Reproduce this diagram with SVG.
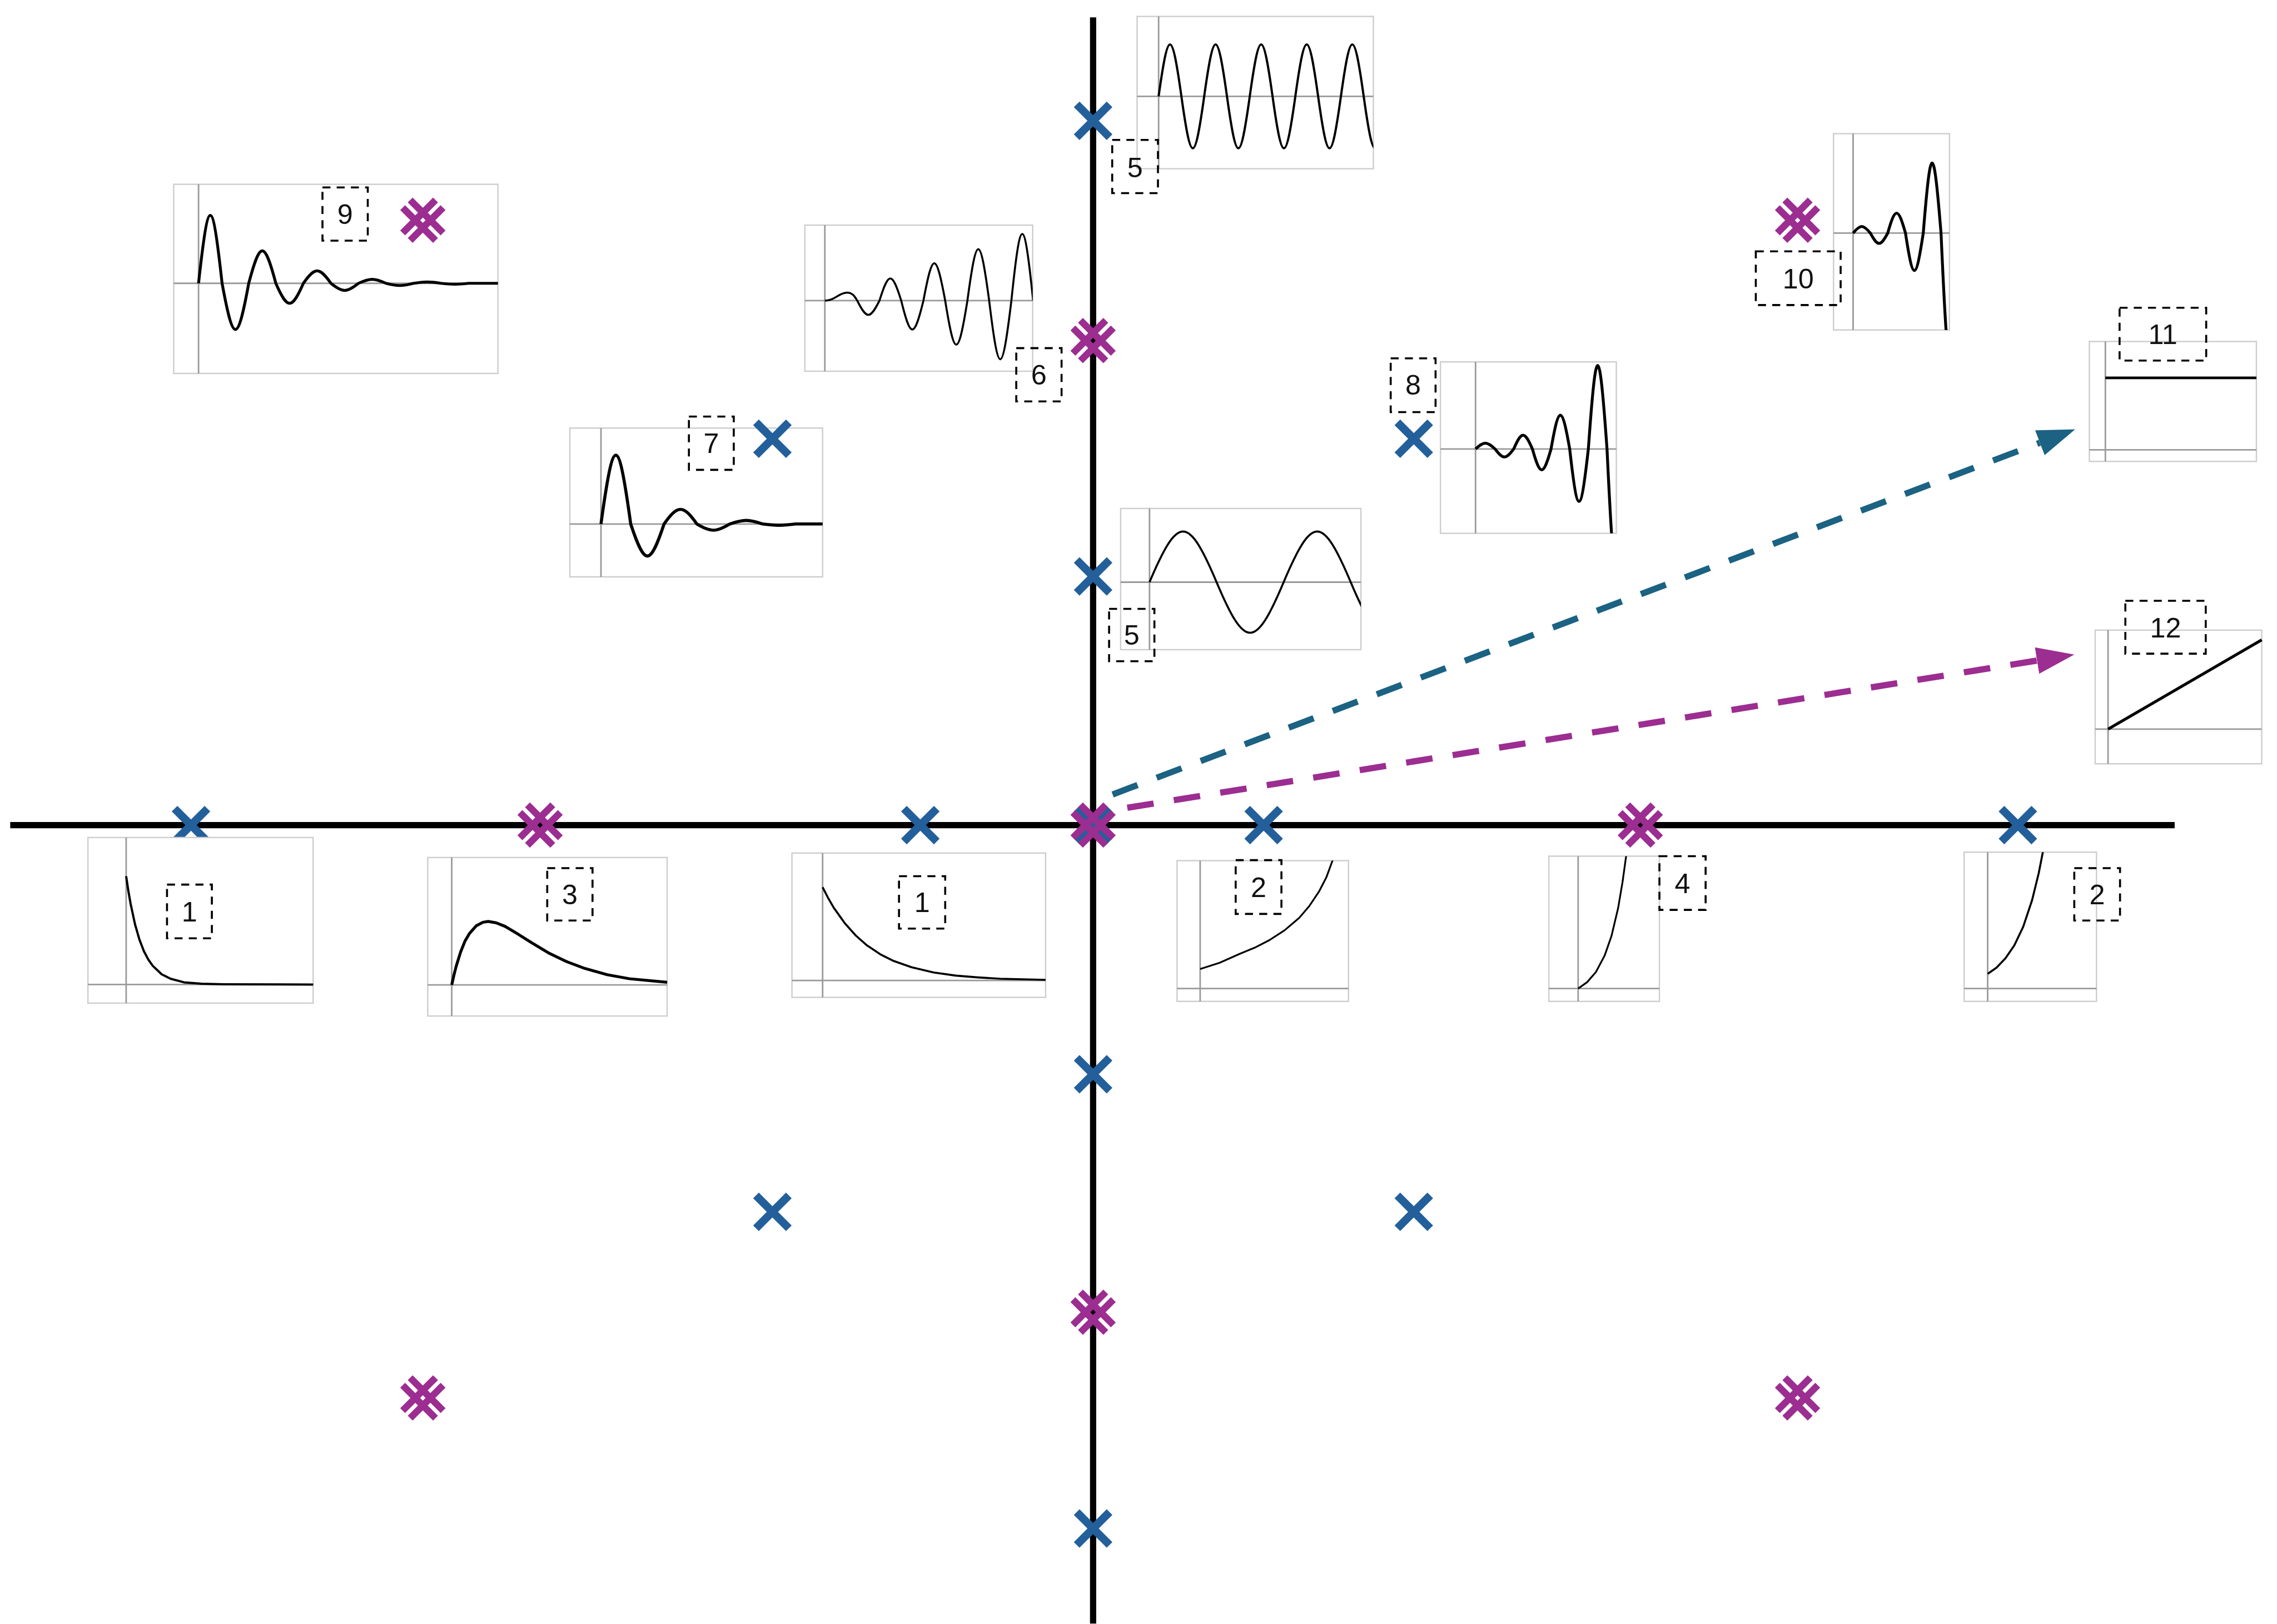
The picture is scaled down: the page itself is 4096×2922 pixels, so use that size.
<svg xmlns="http://www.w3.org/2000/svg" width="4096" height="2922" viewBox="0 0 4096 2922">
<style>
.ax{stroke:#000;stroke-width:14;fill:none}
.box{fill:#fff;stroke:#cdcdcd;stroke-width:3}
.pa{stroke:#9a9a9a;stroke-width:3.5}
.cv{fill:none;stroke:#000;stroke-linejoin:round;stroke-linecap:butt}
.lb{fill:none;stroke:#000;stroke-width:4.5;stroke-dasharray:18 14}
.lt{font-family:"Liberation Sans",Arial,sans-serif;font-size:63px;fill:#111;text-anchor:middle}
.arr{fill:none;stroke-width:14;stroke-dasharray:60 46}
</style>
<defs>
<g id="mb" stroke="#23609b" stroke-width="18"><line x1="-37" y1="-37" x2="37" y2="37"/><line x1="-37" y1="37" x2="37" y2="-37"/></g>
<g id="mm" stroke="#9c2d91" stroke-width="15.5"><line x1="-28.5" y1="-45.5" x2="45.5" y2="28.5"/><line x1="-45.5" y1="-28.5" x2="28.5" y2="45.5"/><line x1="-28.5" y1="45.5" x2="45.5" y2="-28.5"/><line x1="-45.5" y1="28.5" x2="28.5" y2="-45.5"/></g>
<marker id="ahT" markerUnits="userSpaceOnUse" viewBox="0 0 85 64" refX="0" refY="32" markerWidth="85" markerHeight="64" orient="auto"><path d="M0,2 L85,32 L0,62 z" fill="#1b6283"/></marker>
<marker id="ahM" markerUnits="userSpaceOnUse" viewBox="0 0 85 64" refX="0" refY="32" markerWidth="85" markerHeight="64" orient="auto"><path d="M0,2 L85,32 L0,62 z" fill="#9c2d91"/></marker>
<clipPath id="c6"><rect x="1812" y="507" width="513" height="329"/></clipPath>
<clipPath id="c5a"><rect x="2560" y="37" width="532" height="343"/></clipPath>
<clipPath id="c5b"><rect x="2523" y="1145" width="541" height="318"/></clipPath>
<clipPath id="c8"><rect x="3243" y="815" width="396" height="386"/></clipPath>
<clipPath id="c10"><rect x="4128" y="301" width="261" height="442"/></clipPath>
<clipPath id="c2a"><rect x="2650" y="1938" width="386" height="317"/></clipPath>
<clipPath id="c4"><rect x="3487" y="1928" width="249" height="327"/></clipPath>
<clipPath id="c2b"><rect x="4422" y="1919" width="298" height="336"/></clipPath>
</defs>
<rect width="4096" height="2922" fill="#fff"/>
<g transform="scale(0.799)">
<g id="axes">
<line class="ax" x1="23" y1="1858" x2="4896" y2="1858"/>
<line class="ax" x1="2461" y1="39" x2="2461" y2="3656"/>
</g>
<g id="pb1"><use href="#mb" x="430" y="1858"/></g>
<g id="plot9">
<rect class="box" x="391" y="415" width="730" height="426"/>
<line class="pa" x1="447" y1="415" x2="447" y2="841"/><line class="pa" x1="391" y1="638" x2="1121" y2="638"/>
<path class="cv" stroke-width="6.5" d="M447,638 C469.5,434 477.5,434 500,638 C525.5,776.6 534.5,776.6 560,638 C585.9,540.7 595.1,540.7 621,638 C647.3,698 656.7,698 683,638 C709.3,600.7 718.7,600.7 745,638 C771.3,659.3 780.7,659.3 807,638 C833.3,626 842.7,626 869,638 C895.3,644.7 904.7,644.7 931,638 C957.3,634 966.7,634 993,638 C1019.3,640.7 1028.7,640.7 1055,638 L1121,638"/>
</g>
<g id="plot7">
<rect class="box" x="1283" y="964" width="569" height="335"/>
<line class="pa" x1="1353" y1="964" x2="1353" y2="1299"/><line class="pa" x1="1283" y1="1180" x2="1852" y2="1180"/>
<path class="cv" stroke-width="7" d="M1353,1180 C1381.4,973.4 1391.6,973.4 1420,1180 C1451.8,1276 1463.2,1276 1495,1180 C1526.4,1136 1537.6,1136 1569,1180 C1600.4,1198.7 1611.6,1198.7 1643,1180 C1674.4,1169.3 1685.6,1169.3 1717,1180 C1748.4,1184 1759.6,1184 1791,1180 L1852,1180"/>
</g>
<g id="plot6">
<rect class="box" x="1812" y="507" width="513" height="329"/>
<line class="pa" x1="1857" y1="507" x2="1857" y2="836"/><line class="pa" x1="1812" y1="677" x2="2325" y2="677"/>
<path class="cv" stroke-width="4.5" clip-path="url(#c6)" d="M1857,677 C1880,677 1889,659 1907,659 C1920,659 1925,669 1930,677 C1951.2,719.7 1958.8,719.7 1980,677 C2000.8,610.3 2008.2,610.3 2029,677 C2050.2,763.7 2057.8,763.7 2079,677 C2099.8,565 2107.2,565 2128,677 C2149.2,809 2156.8,809 2178,677 C2198.8,522.3 2206.2,522.3 2227,677 C2248.2,853 2255.8,853 2277,677 C2297.8,477 2305.2,477 2326,677"/>
</g>
<g id="plot5a">
<rect class="box" x="2560" y="37" width="532" height="343"/>
<line class="pa" x1="2608.5" y1="37" x2="2608.5" y2="380"/><line class="pa" x1="2560" y1="217" x2="3092" y2="217"/>
<path class="cv" stroke-width="5" clip-path="url(#c5a)" d="M2608.5,217 C2630.3,61 2638,61 2659.8,217 C2681.6,373 2689.3,373 2711.1,217 C2732.9,61 2740.6,61 2762.4,217 C2784.2,373 2791.9,373 2813.7,217 C2835.5,61 2843.2,61 2865,217 C2886.8,373 2894.5,373 2916.3,217 C2938.1,61 2945.8,61 2967.6,217 C2989.4,373 2997.1,373 3018.9,217 C3040.7,61 3048.4,61 3070.2,217 C3092,373 3099.7,373 3121.5,217"/>
</g>
<g id="plot5b">
<rect class="box" x="2523" y="1145" width="541" height="318"/>
<line class="pa" x1="2588" y1="1145" x2="2588" y2="1463"/><line class="pa" x1="2523" y1="1311" x2="3064" y2="1311"/>
<path class="cv" stroke-width="4.5" clip-path="url(#c5b)" d="M2588,1311 C2652.1,1159 2674.9,1159 2739,1311 C2803.1,1463 2825.9,1463 2890,1311 C2954.1,1159 2976.9,1159 3041,1311 C3105.1,1463 3127.9,1463 3192,1311"/>
</g>
<g id="plot8">
<rect class="box" x="3243" y="815" width="396" height="386"/>
<line class="pa" x1="3322" y1="815" x2="3322" y2="1201"/><line class="pa" x1="3243" y1="1011" x2="3639" y2="1011"/>
<path class="cv" stroke-width="6.5" clip-path="url(#c8)" d="M3322,1011 C3340.7,993.7 3347.3,993.7 3366,1011 C3383.8,1035 3390.2,1035 3408,1011 C3425.8,969.7 3432.2,969.7 3450,1011 C3467.8,1073.7 3474.2,1073.7 3492,1011 C3509.8,909.7 3516.2,909.7 3534,1011 C3551.8,1168.3 3558.2,1168.3 3576,1011 C3593.8,760.4 3600.2,760.4 3618,1011 C3635.8,1384.2 3642.2,1384.2 3660,1011"/>
</g>
<g id="plot10">
<rect class="box" x="4128" y="301" width="261" height="442"/>
<line class="pa" x1="4172" y1="301" x2="4172" y2="743"/><line class="pa" x1="4128" y1="525" x2="4389" y2="525"/>
<path class="cv" stroke-width="6.5" clip-path="url(#c10)" d="M4172,525 C4188.6,505 4194.4,505 4211,525 C4227.6,555.7 4233.4,555.7 4250,525 C4267,465 4273,465 4290,525 C4307,637 4313,637 4330,525 C4347,314.4 4353,314.4 4370,525 C4387,905 4393,905 4410,525"/>
</g>
<g id="plot11">
<rect class="box" x="4704" y="769" width="376" height="270"/>
<line class="pa" x1="4740" y1="769" x2="4740" y2="1039"/><line class="pa" x1="4704" y1="1013" x2="5080" y2="1013"/>
<path class="cv" stroke-width="6" d="M4740,851 L5080,851"/>
</g>
<g id="plot12">
<rect class="box" x="4717" y="1419" width="375" height="301"/>
<line class="pa" x1="4746" y1="1419" x2="4746" y2="1720"/><line class="pa" x1="4717" y1="1642" x2="5092" y2="1642"/>
<path class="cv" stroke-width="6.5" d="M4746,1642 L5092,1441"/>
</g>
<g id="plot1a">
<rect class="box" x="198" y="1886" width="507" height="373"/>
<line class="pa" x1="284" y1="1886" x2="284" y2="2259"/><line class="pa" x1="198" y1="2217" x2="705" y2="2217"/>
<polyline class="cv" stroke-width="5" points="284,1973 289,2006.4 294,2035 304,2081.5 314,2116 324,2142 334,2161 344,2175 364,2194 384,2204 414,2212 454,2215.4 504,2216.6 705,2217"/>
</g>
<g id="plot3">
<rect class="box" x="963" y="1931" width="539" height="357"/>
<line class="pa" x1="1017" y1="1931" x2="1017" y2="2288"/><line class="pa" x1="963" y1="2218" x2="1502" y2="2218"/>
<polyline class="cv" stroke-width="6.5" points="1017,2218 1022,2195.7 1027,2176 1037,2144 1047,2119 1057,2102 1072,2085 1087,2077 1099,2075 1117,2078 1137,2086 1167,2104 1197,2123 1237,2147 1277,2166 1317,2181 1367,2195 1417,2204 1502,2212"/>
</g>
<g id="plot1b">
<rect class="box" x="1783" y="1921" width="571" height="325"/>
<line class="pa" x1="1852" y1="1921" x2="1852" y2="2246"/><line class="pa" x1="1783" y1="2208" x2="2354" y2="2208"/>
<polyline class="cv" stroke-width="4.5" points="1852,1998 1864,2021.3 1877,2044 1902,2079 1927,2107 1952,2129 1982,2149 2012,2164 2052,2178 2102,2190 2152,2197 2202,2201 2252,2204 2354,2206.5"/>
</g>
<g id="plot2a">
<rect class="box" x="2650" y="1938" width="386" height="317"/>
<line class="pa" x1="2702" y1="1938" x2="2702" y2="2255"/><line class="pa" x1="2650" y1="2226" x2="3036" y2="2226"/>
<polyline class="cv" stroke-width="4" clip-path="url(#c2a)" points="2702,2182 2746,2168 2791,2148 2825,2134 2858,2117 2892,2095 2925,2067 2948,2040 2970,2007 2986,1976 3000,1938 3008,1915"/>
</g>
<g id="plot4">
<rect class="box" x="3487" y="1928" width="249" height="327"/>
<line class="pa" x1="3553" y1="1928" x2="3553" y2="2255"/><line class="pa" x1="3487" y1="2226" x2="3736" y2="2226"/>
<polyline class="cv" stroke-width="4" clip-path="url(#c4)" points="3553,2226 3573,2212 3593,2189 3613,2151 3628,2108 3643,2045 3653,1986 3661,1928 3668,1865"/>
</g>
<g id="plot2b">
<rect class="box" x="4422" y="1919" width="298" height="336"/>
<line class="pa" x1="4475" y1="1919" x2="4475" y2="2255"/><line class="pa" x1="4422" y1="2226" x2="4720" y2="2226"/>
<polyline class="cv" stroke-width="4.5" clip-path="url(#c2b)" points="4475,2193 4495,2179 4515,2158 4535,2129 4555,2087 4575,2027 4590,1966 4599,1920 4605,1885"/>
</g>
<g id="poles">
<g id="pb2"><use href="#mb" x="2072" y="1858"/></g>
<g id="pb3"><use href="#mb" x="2461" y="1858"/></g>
<g id="pb4"><use href="#mb" x="2845" y="1858"/></g>
<g id="pb5"><use href="#mb" x="4543" y="1858"/></g>
<g id="pb6"><use href="#mb" x="2461" y="272"/></g>
<g id="pb7"><use href="#mb" x="2461" y="1298"/></g>
<g id="pb8"><use href="#mb" x="2461" y="2419"/></g>
<g id="pb9"><use href="#mb" x="2461" y="3442"/></g>
<g id="pb10"><use href="#mb" x="1739" y="988"/></g>
<g id="pb11"><use href="#mb" x="3183" y="988"/></g>
<g id="pb12"><use href="#mb" x="1739" y="2729"/></g>
<g id="pb13"><use href="#mb" x="3183" y="2729"/></g>
<g id="pm1"><use href="#mm" x="952" y="496"/></g>
<g id="pm2"><use href="#mm" x="1216" y="1858"/></g>
<g id="pm3"><use href="#mm" x="2461" y="1858"/></g>
<g id="pm4"><use href="#mm" x="3693" y="1858"/></g>
<g id="pm5"><use href="#mm" x="2461" y="767"/></g>
<g id="pm6"><use href="#mm" x="2461" y="2955"/></g>
<g id="pm7"><use href="#mm" x="4047" y="496"/></g>
<g id="pm8"><use href="#mm" x="952" y="3148"/></g>
<g id="pm9"><use href="#mm" x="4047" y="3148"/></g>
</g>
<g id="lbl9"><rect class="lb" x="726" y="422" width="102" height="120"/><text class="lt" x="777" y="504">9</text></g>
<g id="lbl7"><rect class="lb" x="1551" y="938" width="101" height="120"/><text class="lt" x="1601.5" y="1020">7</text></g>
<g id="lbl6"><rect class="lb" x="2288" y="784" width="102" height="120"/><text class="lt" x="2339" y="866">6</text></g>
<g id="lbl5a"><rect class="lb" x="2504" y="315" width="103" height="120"/><text class="lt" x="2555.5" y="399">5</text></g>
<g id="lbl5b"><rect class="lb" x="2497" y="1371" width="102" height="118"/><text class="lt" x="2548" y="1452">5</text></g>
<g id="lbl8"><rect class="lb" x="3131" y="807" width="101" height="121"/><text class="lt" x="3181.5" y="888">8</text></g>
<g id="lbl10"><rect class="lb" x="3953" y="566" width="191" height="121"/><text class="lt" x="4048.5" y="649">10</text></g>
<g id="lbl11"><rect class="lb" x="4772" y="693" width="195" height="119"/><text class="lt" x="4869.5" y="775">11</text></g>
<g id="lbl12"><rect class="lb" x="4785" y="1353" width="181" height="119"/><text class="lt" x="4875.5" y="1435">12</text></g>
<g id="lbl1a"><rect class="lb" x="376" y="1992" width="101" height="121"/><text class="lt" x="426.5" y="2075">1</text></g>
<g id="lbl3"><rect class="lb" x="1232" y="1955" width="102" height="118"/><text class="lt" x="1283" y="2036">3</text></g>
<g id="lbl1b"><rect class="lb" x="2024" y="1973" width="104" height="118"/><text class="lt" x="2076" y="2054">1</text></g>
<g id="lbl2a"><rect class="lb" x="2782" y="1937" width="103" height="121"/><text class="lt" x="2833.5" y="2020">2</text></g>
<g id="lbl4"><rect class="lb" x="3736" y="1928" width="104" height="121"/><text class="lt" x="3788" y="2011">4</text></g>
<g id="lbl2b"><rect class="lb" x="4670" y="1955" width="103" height="118"/><text class="lt" x="4721.5" y="2036">2</text></g>
<g id="connectors">
<path class="arr" stroke="#1b6283" d="M2505,1789 L4592.5,997.1" marker-end="url(#ahT)"/>
<path class="arr" stroke="#9c2d91" d="M2538,1819 L4586.1,1487.5" marker-end="url(#ahM)"/>
</g>
</g>
</svg>
